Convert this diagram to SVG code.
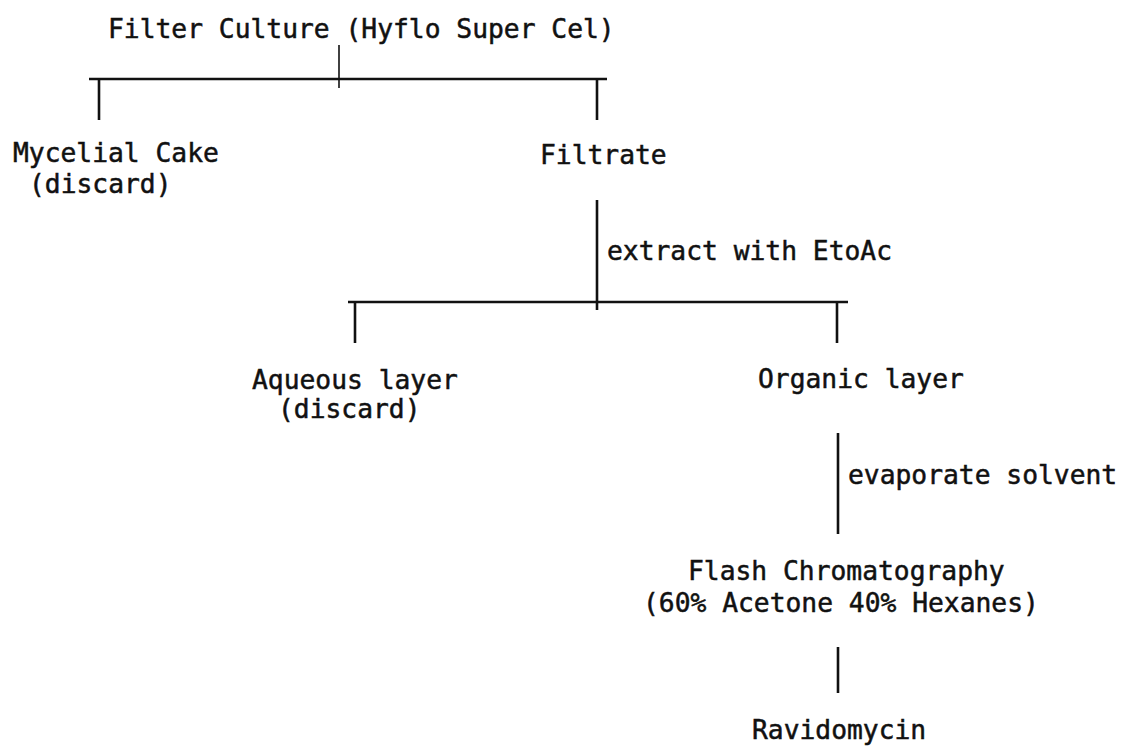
<svg xmlns="http://www.w3.org/2000/svg" width="1124" height="746" viewBox="0 0 1124 746">
<style>
text { font-family: "DejaVu Sans Mono", "Liberation Mono", monospace; font-size: 26.3px; fill: #111; stroke: #111; stroke-width: 0.5; }
.ln { stroke: #111; stroke-width: 2.6; fill: none; stroke-linecap: butt; }
.thin { stroke: #111; stroke-width: 1.6; fill: none; }
</style>
<rect width="1124" height="746" fill="#fff"/>
<g id="connectors">
  <line class="thin" x1="339" y1="45" x2="339" y2="88"/>
  <line class="ln" x1="89" y1="79" x2="607" y2="79"/>
  <line class="ln" x1="99" y1="79" x2="99" y2="120"/>
  <line class="ln" x1="597" y1="79" x2="597" y2="120"/>
  <line class="ln" x1="597" y1="200" x2="597" y2="310"/>
  <line class="ln" x1="348" y1="302" x2="848" y2="302"/>
  <line class="ln" x1="355" y1="302" x2="355" y2="343"/>
  <line class="ln" x1="837" y1="302" x2="837" y2="343"/>
  <line class="ln" x1="838" y1="433" x2="838" y2="534"/>
  <line class="ln" x1="838" y1="647" x2="838" y2="693"/>
  <text x="607" y="260">extract with EtoAc</text>
  <text x="848" y="484">evaporate solvent</text>
</g>
<g id="filter-culture"><text x="108" y="38">Filter Culture (Hyflo Super Cel)</text></g>
<g id="mycelial-cake"><text x="13" y="162">Mycelial Cake</text><text x="29" y="193">(discard)</text></g>
<g id="filtrate"><text x="540" y="164">Filtrate</text></g>
<g id="aqueous-layer"><text x="252" y="389">Aqueous layer</text><text x="278" y="418">(discard)</text></g>
<g id="organic-layer"><text x="758" y="388">Organic layer</text></g>
<g id="flash-chromatography"><text x="688" y="580">Flash Chromatography</text><text x="643" y="612">(60% Acetone 40% Hexanes)</text></g>
<g id="ravidomycin"><text x="752" y="739">Ravidomycin</text></g>
</svg>
